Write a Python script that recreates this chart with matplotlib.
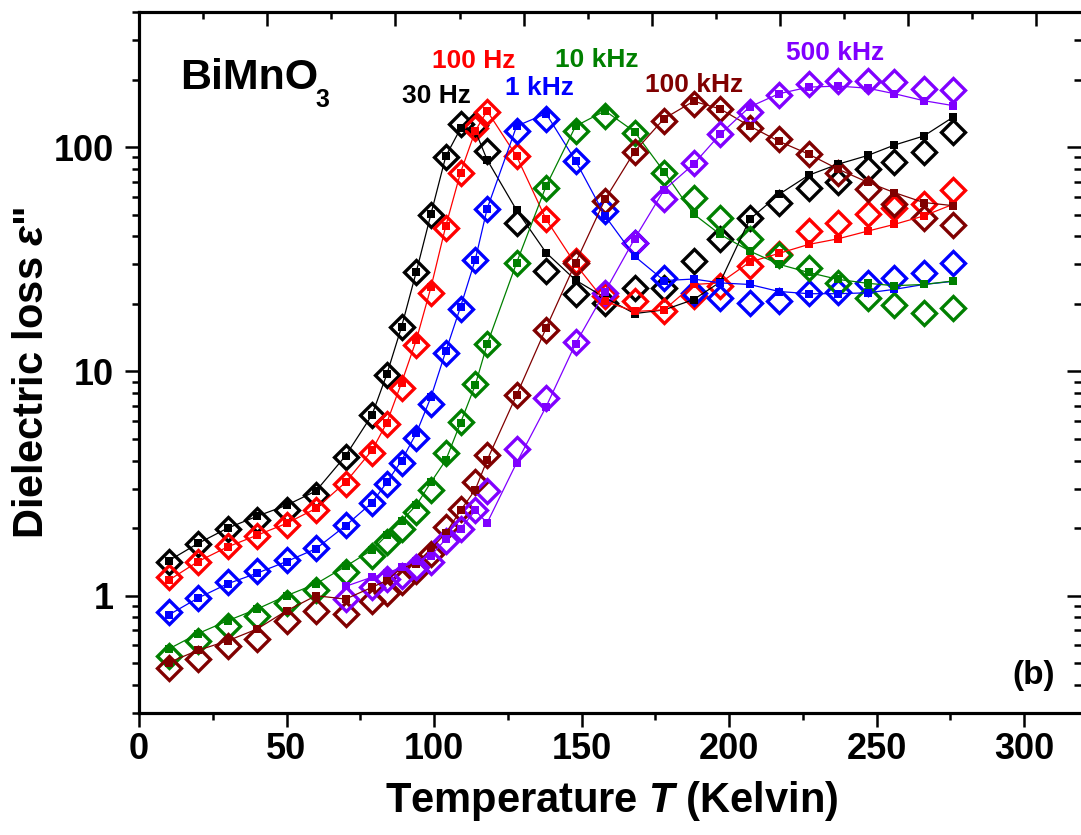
import numpy as np
import matplotlib
matplotlib.use("Agg")
import matplotlib.pyplot as plt
from matplotlib.ticker import MultipleLocator, LogLocator, NullFormatter, FixedLocator

plt.rcParams['font.family'] = ['Liberation Sans', 'DejaVu Sans']
plt.rcParams['font.weight'] = 'bold'
plt.rcParams['mathtext.fontset'] = 'custom'
plt.rcParams['mathtext.rm'] = 'Liberation Sans:bold'
plt.rcParams['mathtext.it'] = 'Liberation Sans:italic:bold'
plt.rcParams['mathtext.bf'] = 'Liberation Sans:bold'

nan = np.nan

# Temperature grid (K)
temperature = [10, 20, 30, 40, 50, 60, 70, 79, 84, 89, 94, 99, 104, 109, 114, 118,
               128, 138, 148, 158, 168, 178, 188, 197, 207, 217, 227, 237, 247, 256, 266, 276]

freq_labels = ['30 Hz', '100 Hz', '1 kHz', '10 kHz', '100 kHz', '500 kHz']

# Dielectric loss, open diamonds
loss_open_30hz = [1.41, 1.70, 1.99, 2.18, 2.40, 2.80, 4.16, 6.39, 9.64, 15.7, 27.6, 49.6, 89.9, 127, 125, 96.4,
                  46.0, 28.0, 22.2, 20.2, 23.6, 23.6, 31.0, 39.0, 48.5, 56.6, 65.5, 70.0, 79.7, 86.0, 94.7, 117]
loss_open_100hz = [1.21, 1.41, 1.66, 1.85, 2.07, 2.40, 3.14, 4.31, 5.80, 8.41, 13.1, 22.4, 43.7, 76.3, 121, 143,
                   90.8, 47.6, 31.0, 21.6, 20.5, 18.5, 21.6, 23.9, 29.4, 33.2, 42.2, 46.0, 50.1, 53.7, 55.6, 64.4]
loss_open_1khz = [0.842, 0.98, 1.15, 1.29, 1.44, 1.64, 2.07, 2.60, 3.16, 3.91, 5.05, 7.13, 12.1, 19.0, 31.5, 52.8,
                  118, 133, 86.8, 51.9, 37.5, 26.1, 22.4, 21.3, 20.2, 20.5, 22.4, 22.7, 24.8, 26.1, 27.5, 30.5]
loss_open_10khz = [0.539, 0.629, 0.734, 0.814, 0.924, 1.06, 1.27, 1.51, 1.73, 1.99, 2.36, 2.95, 4.33, 5.93, 8.79, 13.3,
                   30.5, 66.0, 118, 138, 116, 76.4, 59.0, 48.5, 39.1, 33.0, 28.9, 24.8, 21.3, 19.8, 18.3, 19.2]
loss_open_100khz = [0.475, 0.521, 0.598, 0.640, 0.773, 0.857, 0.828, 0.95, 1.03, 1.15, 1.29, 1.54, 2.02, 2.44, 3.21, 4.23,
                    7.85, 15.3, 30.5, 57.5, 95.5, 131, 156, 148, 122, 109, 93.0, 77.0, 64.9, 56.0, 48.5, 45.0]
loss_open_500khz = [nan, nan, nan, nan, nan, nan, 0.967, 1.09, 1.19, 1.23, 1.34, 1.41, 1.76, 1.99, 2.40, 2.93,
                    4.53, 7.59, 13.5, 22.4, 37.5, 58.7, 84.6, 114, 144, 171, 191, 198, 198, 195, 182, 180]

# Dielectric loss, filled squares joined by lines
loss_filled_30hz = [1.43, 1.71, 2.00, 2.26, 2.53, 2.93, 4.20, 6.40, 9.70, 15.8, 27.8, 50.5, 91.0, 121, 118, 87.8,
                    52.3, 33.8, 25.5, 21.3, 18.1, 18.8, 20.9, 25.0, 47.6, 61.6, 74.9, 83.9, 91.7, 102, 112, 136]
loss_filled_100hz = [1.17, 1.42, 1.65, 1.86, 2.10, 2.45, 3.20, 4.45, 5.90, 8.90, 13.8, 23.8, 44.5, 77.0, 118, 145,
                     91.0, 47.6, 30.0, 20.5, 18.5, 18.8, 24.4, 24.8, 30.7, 33.6, 36.8, 39.0, 42.2, 45.2, 49.3, 55.6]
loss_filled_1khz = [0.82, 0.976, 1.13, 1.26, 1.42, 1.62, 2.05, 2.60, 3.20, 4.00, 5.30, 7.70, 12.3, 19.4, 31.5, 53.0,
                    124, 141, 86.8, 49.3, 32.6, 25.4, 25.8, 24.8, 24.4, 22.7, 22.2, 22.2, 22.4, 23.2, 24.4, 25.2]
loss_filled_10khz = [0.578, 0.678, 0.773, 0.872, 1.00, 1.13, 1.35, 1.60, 1.86, 2.16, 2.53, 3.21, 4.02, 5.90, 8.70, 13.2,
                     30.5, 67.0, 124, 145, 117, 77.6, 50.3, 40.8, 34.4, 30.0, 27.6, 25.7, 24.7, 24.1, 24.4, 25.3]
loss_filled_100khz = [0.503, 0.571, 0.629, 0.710, 0.857, 1.00, 0.966, 1.09, 1.17, 1.33, 1.39, 1.62, 1.90, 2.40, 2.97, 4.02,
                      7.85, 15.6, 30.5, 58.5, 95.5, 134, 160, 148, 124, 106, 93.0, 79.7, 69.7, 62.7, 56.6, 54.8]
loss_filled_500khz = [nan, nan, nan, nan, nan, nan, 1.10, 1.21, 1.26, 1.34, 1.43, 1.51, 1.79, 1.99, 2.40, 2.11,
                      3.91, 6.96, 13.3, 22.7, 39.0, 64.4, 83.9, 114, 151, 173, 185, 187, 183, 173, 161, 153]

open_series = [loss_open_30hz, loss_open_100hz, loss_open_1khz,
               loss_open_10khz, loss_open_100khz, loss_open_500khz]
filled_series = [loss_filled_30hz, loss_filled_100hz, loss_filled_1khz,
                 loss_filled_10khz, loss_filled_100khz, loss_filled_500khz]

colors = ['#000000', '#FF0000', '#0000FF', '#008000', '#800000', '#8000FF']
label_pos = [(0.279, 0.870), (0.311, 0.920), (0.389, 0.882),
             (0.442, 0.9215), (0.537, 0.886), (0.687, 0.9315)]

W, H = 1081, 835
AX_W = 945
fig = plt.figure(figsize=(W / 100, H / 100), dpi=100)
ax = fig.add_axes([139 / W, 122 / H, AX_W / W, 701 / H])

for vals, c in zip(open_series, colors):
    ax.plot(temperature, vals, ls='none', marker='D', ms=12.4, mfc='none',
            mec=c, mew=2.4, zorder=2, clip_on=False)
for vals, c in zip(filled_series, colors):
    ax.plot(temperature, vals, ls='-', lw=0.9, color=c, marker='s', ms=6.3,
            mfc=c, mec=c, mew=0, zorder=3)

ax.set_yscale('log')
ax.set_xlim(0, AX_W / 2.95)
ax.set_ylim(0.3, 400)

ax.xaxis.set_major_locator(MultipleLocator(50))
ax.xaxis.set_minor_locator(MultipleLocator(25))
ax.yaxis.set_major_locator(FixedLocator([1, 10, 100]))
ax.set_yticklabels(['1', '10', '100'])
ax.yaxis.set_minor_locator(LogLocator(base=10, subs=np.arange(2, 10)))
ax.yaxis.set_minor_formatter(NullFormatter())

ax.tick_params(axis='both', which='major', direction='out', length=10, width=1.8,
               labelsize=26, top=False, right=False)
ax.tick_params(axis='x', which='major', pad=4)
ax.tick_params(axis='y', which='major', pad=8)
ax.tick_params(axis='both', which='minor', direction='out', length=5, width=1.8,
               top=False, right=False)
for lab in ax.get_xticklabels() + ax.get_yticklabels():
    lab.set_fontweight('bold')

for sp in ax.spines.values():
    sp.set_linewidth(2.2)

# Mirror axis on the right (inward ticks, no labels)
axr = ax.twinx()
axr.set_yscale('log')
axr.set_ylim(ax.get_ylim())
axr.yaxis.set_major_locator(FixedLocator([1, 10, 100]))
axr.yaxis.set_minor_locator(LogLocator(base=10, subs=np.arange(2, 10)))
axr.yaxis.set_major_formatter(NullFormatter())
axr.yaxis.set_minor_formatter(NullFormatter())
axr.tick_params(axis='y', which='major', direction='in', length=12, width=1.8)
axr.tick_params(axis='y', which='minor', direction='in', length=7, width=1.8)
for sp in axr.spines.values():
    sp.set_linewidth(2.2)

# Top axis (inward ticks, no labels)
axt = ax.twiny()
axt.set_xlim(0, AX_W / 128.2 * 50)
axt.xaxis.set_major_locator(MultipleLocator(50))
axt.xaxis.set_minor_locator(MultipleLocator(25))
axt.xaxis.set_major_formatter(NullFormatter())
axt.tick_params(axis='x', which='major', direction='in', length=10, width=1.8)
axt.tick_params(axis='x', which='minor', direction='in', length=5, width=1.8)
for sp in axt.spines.values():
    sp.set_linewidth(2.2)

ax.set_xlabel('Temperature $T$ (Kelvin)', fontsize=30, fontweight='bold', labelpad=8)
ax.set_ylabel('Dielectric loss $\\varepsilon$"', fontsize=30, fontweight='bold', labelpad=1)
ax.yaxis.label.set_y(0.486)

# Label positions in axes fractions of the visible frame width
sx = 942 / AX_W
ax.text(0.0435 * sx, 0.890, 'BiMnO', transform=ax.transAxes, fontsize=31,
        fontweight='bold', ha='left', va='baseline')
ax.text(0.187 * sx, 0.8645, '3', transform=ax.transAxes, fontsize=18,
        fontweight='bold', ha='left', va='baseline')

for lab, c, (x, y) in zip(freq_labels, colors, label_pos):
    ax.text(x * sx, y, lab, transform=ax.transAxes, fontsize=19, fontweight='bold',
            color=c, ha='left', va='baseline')

ax.text(0.972 * sx, 0.053, '(b)', transform=ax.transAxes, fontsize=24,
        fontweight='bold', ha='right', va='center')

fig.savefig('out.png', dpi=100)
